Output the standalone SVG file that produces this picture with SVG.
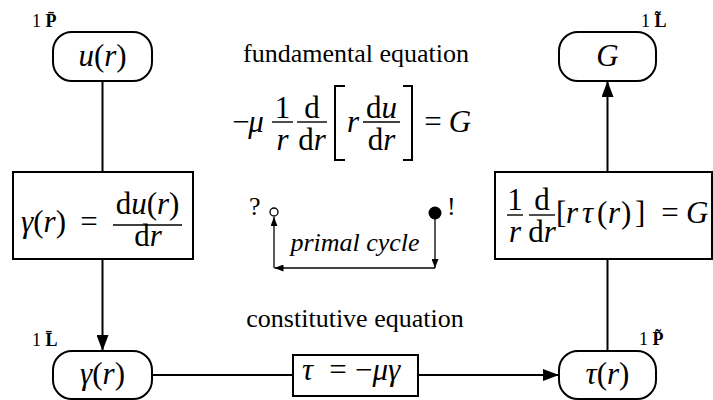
<svg xmlns="http://www.w3.org/2000/svg" width="713" height="400" viewBox="0 0 713 400">
<style>
.node{fill:#fff;stroke:#000;stroke-width:2}
.box{fill:#fff;stroke:#000;stroke-width:2}
.ln{fill:none;stroke:#000;stroke-width:2}
.thin{fill:none;stroke:#000;stroke-width:1.3}
.bar{stroke:#000;stroke-width:1.4}
.m{font-family:"Liberation Serif","Times New Roman",serif;font-size:31px;fill:#000}
.i{font-style:italic}
.t{font-family:"Liberation Serif","Times New Roman",serif;font-size:26px;fill:#000}
.lab{font-family:"Liberation Serif","Times New Roman",serif;font-size:18px;fill:#000}
.b{font-weight:bold}
.c{text-anchor:middle}
</style>
<defs>
<marker id="ah" markerWidth="16" markerHeight="12" refX="16" refY="6" orient="auto" markerUnits="userSpaceOnUse"><path d="M0,0 L16,6 L0,12 z" fill="#000"/></marker>
<marker id="as" markerWidth="9" markerHeight="7" refX="9" refY="3.5" orient="auto" markerUnits="userSpaceOnUse"><path d="M0,0 L9,3.5 L0,7 z" fill="#000"/></marker>
</defs>

<g id="connectors">
<path class="ln" d="M102.5,81 V172"/>
<path class="ln" d="M102.5,259 V351" marker-end="url(#ah)"/>
<path class="ln" d="M152,375 H293"/>
<path class="ln" d="M418,375 H559" marker-end="url(#ah)"/>
<path class="ln" d="M607.5,352 V259"/>
<path class="ln" d="M607.5,172 V81" marker-end="url(#ah)"/>
</g>

<g id="node-u">
<rect class="node" x="53" y="32" width="99" height="49" rx="19"/>
<text class="m c" x="102.5" y="66"><tspan class="i">u</tspan>(<tspan class="i">r</tspan>)</text>
<text class="lab" x="32" y="27">1 <tspan class="b">P&#x0304;</tspan></text>
</g>

<g id="node-gamma-eq">
<rect class="box" x="13" y="172" width="180" height="87"/>
<text class="m" x="21" y="232"><tspan class="i">γ</tspan>(<tspan class="i">r</tspan>)</text>
<text class="m c" x="89" y="232">=</text>
<line class="bar" x1="113" y1="225" x2="182" y2="225"/>
<text class="m c" x="147.5" y="214">d<tspan class="i">u</tspan>(<tspan class="i">r</tspan>)</text>
<text class="m c" x="148" y="246">d<tspan class="i">r</tspan></text>
</g>

<g id="node-gamma">
<rect class="node" x="53" y="351" width="99" height="48" rx="19"/>
<text class="m c" x="102.5" y="384"><tspan class="i">γ</tspan>(<tspan class="i">r</tspan>)</text>
<text class="lab" x="32" y="346">1 <tspan class="b">L&#x0304;</tspan></text>
</g>

<g id="node-const">
<rect class="box" x="293" y="355" width="125" height="41"/>
<text class="m" x="302" y="380"><tspan class="i">τ</tspan></text>
<text class="m c" x="338" y="380">=</text>
<text class="m" x="355" y="380">−<tspan class="i">μγ</tspan></text>
<text class="t c" x="355" y="327">constitutive equation</text>
</g>

<g id="node-tau">
<rect class="node" x="559" y="351" width="97" height="48" rx="19"/>
<text class="m c" x="607.5" y="384"><tspan class="i">τ</tspan>(<tspan class="i">r</tspan>)</text>
<text class="lab" x="639" y="345">1 <tspan class="b">P&#x0303;</tspan></text>
</g>

<g id="node-tau-eq">
<rect class="box" x="495" y="172" width="217" height="87"/>
<line class="bar" x1="507" y1="215" x2="523" y2="215"/>
<text class="m c" x="515" y="210">1</text>
<text class="m c i" x="515" y="242">r</text>
<line class="bar" x1="529" y1="215" x2="555" y2="215"/>
<text class="m c" x="542" y="210">d</text>
<text class="m c" x="542" y="242">d<tspan class="i">r</tspan></text>
<text class="m" x="556" y="223">[</text>
<text class="m i" x="566" y="223">r</text>
<text class="m i" x="582" y="223">τ</text>
<text class="m" x="597" y="223">(</text>
<text class="m i" x="608" y="223">r</text>
<text class="m" x="621" y="223">)</text>
<text class="m" x="635" y="223">]</text>
<text class="m c" x="670" y="223">=</text>
<text class="m i" x="686" y="223">G</text>
</g>

<g id="node-G">
<rect class="node" x="559" y="32" width="97" height="49" rx="19"/>
<text class="m c i" x="607.5" y="66">G</text>
<text class="lab" x="641" y="27">1 <tspan class="b">L&#x0303;</tspan></text>
</g>

<g id="fundamental">
<text class="t c" x="356" y="62">fundamental equation</text>
<text class="m c" x="241" y="132">−</text>
<text class="m c i" x="256" y="132">μ</text>
<line class="bar" x1="272" y1="122" x2="293" y2="122"/>
<text class="m c" x="282.5" y="118">1</text>
<text class="m c i" x="282.5" y="150">r</text>
<line class="bar" x1="297" y1="122" x2="327" y2="122"/>
<text class="m c" x="312" y="118">d</text>
<text class="m c" x="312" y="150">d<tspan class="i">r</tspan></text>
<path class="ln" d="M345,86 H335 V160 H345"/>
<text class="m c i" x="353" y="132">r</text>
<line class="bar" x1="363" y1="122" x2="400" y2="122"/>
<text class="m c" x="381.5" y="118">d<tspan class="i">u</tspan></text>
<text class="m c" x="381.5" y="150">d<tspan class="i">r</tspan></text>
<path class="ln" d="M403,86 H412 V160 H403"/>
<text class="m c" x="433" y="132">=</text>
<text class="m c i" x="460" y="132">G</text>
</g>

<g id="primal-cycle">
<text class="t" x="249" y="215">?</text>
<circle cx="274" cy="212" r="4" fill="#fff" stroke="#000" stroke-width="1.3"/>
<circle cx="435" cy="213" r="6.5" fill="#000"/>
<text class="t" x="447" y="215">!</text>
<path class="thin" d="M435,213 V268" marker-end="url(#as)"/>
<path class="thin" d="M435,268 H274.5" marker-end="url(#as)"/>
<path class="thin" d="M274,268 V217" marker-end="url(#as)"/>
<text class="t i" x="355" y="251" text-anchor="middle">primal cycle</text>
</g>
</svg>
